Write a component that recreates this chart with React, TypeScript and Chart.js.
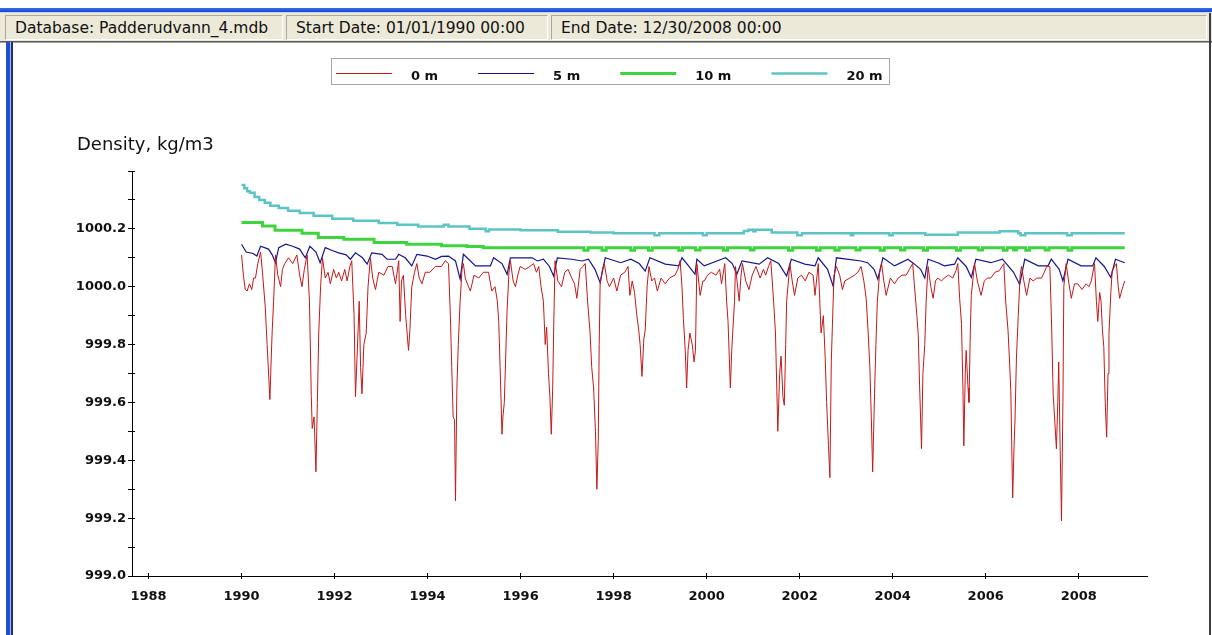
import React, { useEffect, useRef } from 'react';
import { Chart, registerables } from 'chart.js';

Chart.register(...registerables);

// ---------- data ----------
const seriesLabels = ['0 m', '5 m', '10 m', '20 m'];
const yAxisTitle = 'Density, kg/m3';
const statusTexts = ['Database: Padderudvann_4.mdb', 'Start Date: 01/01/1990 00:00', 'End Date: 12/30/2008 00:00'];

const depth0Years = [
  1990.00, 1990.04, 1990.08, 1990.12, 1990.17, 1990.22, 1990.26, 1990.30, 1990.35, 1990.41, 1990.45, 1990.51, 1990.55, 1990.61, 1990.64, 1990.66, 1990.69, 1990.73, 1990.78, 1990.84, 1990.88, 1990.93,
  1991.01, 1991.10, 1991.19, 1991.25, 1991.30, 1991.35, 1991.41, 1991.46, 1991.50, 1991.52, 1991.56, 1991.60, 1991.63, 1991.66, 1991.70, 1991.74, 1991.80, 1991.86, 1991.91, 1991.98,
  1992.04, 1992.09, 1992.15, 1992.22, 1992.27, 1992.33, 1992.37, 1992.42, 1992.45, 1992.49, 1992.53, 1992.56, 1992.59, 1992.63, 1992.68, 1992.72, 1992.77, 1992.82, 1992.88, 1992.95,
  1993.06, 1993.15, 1993.24, 1993.31, 1993.38, 1993.41, 1993.44, 1993.48, 1993.53, 1993.59, 1993.62, 1993.66, 1993.72, 1993.77, 1993.82, 1993.88, 1993.95,
  1994.05, 1994.17, 1994.30, 1994.38, 1994.45, 1994.49, 1994.52, 1994.55, 1994.58, 1994.60, 1994.63, 1994.66, 1994.70, 1994.74, 1994.77, 1994.81, 1994.88, 1994.92,
  1995.00, 1995.10, 1995.20, 1995.31, 1995.38, 1995.45, 1995.50, 1995.53, 1995.56, 1995.60, 1995.62, 1995.65, 1995.71, 1995.75, 1995.78, 1995.84, 1995.89, 1995.94, 1995.99,
  1996.10, 1996.20, 1996.28, 1996.34, 1996.39, 1996.44, 1996.49, 1996.53, 1996.56, 1996.60, 1996.63, 1996.66, 1996.69, 1996.71, 1996.74, 1996.80, 1996.88, 1996.95,
  1997.02, 1997.10, 1997.16, 1997.21, 1997.28, 1997.34, 1997.39, 1997.44, 1997.49, 1997.53, 1997.57, 1997.61, 1997.64, 1997.67, 1997.69, 1997.71, 1997.76, 1997.80, 1997.86, 1997.91,
  1998.00, 1998.07, 1998.15, 1998.24, 1998.31, 1998.35, 1998.40, 1998.45, 1998.50, 1998.54, 1998.57, 1998.61, 1998.65, 1998.68, 1998.72, 1998.76, 1998.82, 1998.88, 1998.94,
  1999.02, 1999.11, 1999.20, 1999.32, 1999.38, 1999.43, 1999.47, 1999.50, 1999.54, 1999.57, 1999.60, 1999.64, 1999.69, 1999.73, 1999.76, 1999.79, 1999.86, 1999.92, 1999.95,
  2000.02, 2000.10, 2000.20, 2000.28, 2000.32, 2000.39, 2000.43, 2000.46, 2000.51, 2000.54, 2000.56, 2000.60, 2000.62, 2000.66, 2000.70, 2000.74, 2000.77, 2000.84, 2000.91, 2000.98,
  2001.06, 2001.15, 2001.22, 2001.27, 2001.33, 2001.38, 2001.44, 2001.48, 2001.53, 2001.57, 2001.60, 2001.64, 2001.67, 2001.70, 2001.72, 2001.79, 2001.84, 2001.89, 2001.96,
  2002.04, 2002.12, 2002.20, 2002.29, 2002.33, 2002.40, 2002.43, 2002.46, 2002.51, 2002.55, 2002.58, 2002.62, 2002.65, 2002.68, 2002.72, 2002.74, 2002.79, 2002.86, 2002.92, 2002.97,
  2003.08, 2003.18, 2003.25, 2003.32, 2003.38, 2003.43, 2003.47, 2003.51, 2003.54, 2003.57, 2003.61, 2003.64, 2003.67, 2003.72, 2003.76, 2003.81, 2003.86, 2003.95,
  2004.04, 2004.12, 2004.20, 2004.29, 2004.36, 2004.43, 2004.48, 2004.52, 2004.55, 2004.58, 2004.62, 2004.65, 2004.69, 2004.72, 2004.76, 2004.82, 2004.87, 2004.92, 2004.97,
  2005.05, 2005.11, 2005.20, 2005.29, 2005.36, 2005.40, 2005.44, 2005.48, 2005.51, 2005.53, 2005.56, 2005.58, 2005.62, 2005.64, 2005.67, 2005.69, 2005.76, 2005.82, 2005.90, 2005.97,
  2006.04, 2006.11, 2006.20, 2006.29, 2006.35, 2006.39, 2006.43, 2006.48, 2006.51, 2006.54, 2006.56, 2006.58, 2006.61, 2006.63, 2006.66, 2006.70, 2006.74, 2006.77, 2006.82, 2006.88, 2006.95,
  2007.02, 2007.10, 2007.20, 2007.26, 2007.31, 2007.38, 2007.42, 2007.45, 2007.48, 2007.52, 2007.55, 2007.57, 2007.60, 2007.63, 2007.66, 2007.68, 2007.73, 2007.79, 2007.84, 2007.91, 2007.98,
  2008.07, 2008.16, 2008.22, 2008.27, 2008.34, 2008.38, 2008.41, 2008.45, 2008.48, 2008.51, 2008.54, 2008.57, 2008.60, 2008.63, 2008.65, 2008.69, 2008.72, 2008.77, 2008.81, 2008.85, 2008.88, 2008.93, 2008.99,
];
const depth0Density = [
  1000.11, 1000.04, 999.99, 999.985, 1000.01, 999.99, 1000.03, 1000.03, 1000.08, 1000.12, 1000.05, 999.93, 999.80, 999.61, 999.76, 999.85, 999.95, 1000.11, 1000.04, 1000.00, 1000.06, 1000.08,
  1000.10, 1000.08, 1000.11, 1000.04, 1000.00, 1000.06, 1000.11, 999.95, 999.62, 999.51, 999.55, 999.36, 999.60, 999.84, 1000.00, 1000.10, 1000.03, 1000.05, 1000.01, 1000.06,
  1000.03, 1000.05, 1000.02, 1000.06, 1000.02, 1000.07, 1000.09, 999.90, 999.62, 999.78, 999.95, 999.72, 999.63, 999.80, 999.84, 1000.00, 1000.10, 1000.03, 999.99, 1000.05,
  1000.04, 1000.07, 1000.07, 1000.01, 1000.09, 999.88, 1000.02, 1000.04, 999.90, 999.78, 999.85, 1000.00, 1000.05, 1000.08, 1000.03, 1000.01, 1000.05,
  1000.05, 1000.07, 1000.07, 1000.09, 1000.08, 999.90, 999.72, 999.55, 999.54, 999.26, 999.65, 999.80, 999.95, 1000.06, 1000.08, 1000.03, 1000.00, 999.985,
  1000.04, 1000.03, 1000.05, 1000.05, 999.985, 1000.00, 999.95, 999.88, 999.72, 999.49, 999.55, 999.60, 999.92, 1000.05, 1000.09, 1000.02, 1000.00, 1000.04, 1000.07,
  1000.06, 1000.07, 1000.08, 1000.05, 1000.07, 1000.00, 999.95, 999.80, 999.86, 999.70, 999.62, 999.49, 999.65, 999.84, 1000.09, 1000.02, 1000.00, 1000.05,
  1000.06, 1000.03, 1000.01, 999.96, 1000.06, 1000.07, 1000.08, 999.95, 999.85, 999.72, 999.65, 999.50, 999.30, 999.47, 999.80, 1000.01, 1000.06, 1000.08, 1000.02, 1000.00,
  1000.03, 999.985, 1000.04, 1000.05, 1000.07, 999.97, 1000.02, 999.98, 999.90, 999.85, 999.80, 999.69, 999.82, 999.85, 1000.00, 1000.07, 1000.02, 1000.03, 999.985,
  1000.03, 1000.01, 1000.03, 1000.04, 1000.06, 1000.09, 1000.00, 999.89, 999.78, 999.65, 999.78, 999.84, 999.80, 999.74, 999.78, 1000.08, 999.97, 1000.02, 1000.02,
  1000.04, 1000.05, 1000.04, 1000.06, 1000.01, 1000.08, 999.95, 999.88, 999.65, 999.78, 999.84, 999.95, 1000.07, 1000.01, 999.95, 1000.04, 1000.08, 1000.02, 999.99, 1000.04,
  1000.07, 1000.03, 1000.06, 1000.04, 1000.07, 1000.09, 999.95, 999.84, 999.50, 999.70, 999.76, 999.62, 999.59, 999.80, 999.95, 1000.08, 1000.02, 999.97, 1000.03,
  1000.04, 1000.02, 1000.05, 1000.04, 999.97, 1000.08, 999.96, 999.84, 999.90, 999.75, 999.60, 999.45, 999.34, 999.74, 999.95, 1000.04, 1000.07, 1000.04, 999.99, 1000.02,
  1000.03, 1000.04, 1000.05, 1000.07, 1000.02, 999.96, 999.85, 999.72, 999.55, 999.36, 999.63, 999.80, 999.95, 1000.05, 1000.08, 1000.02, 999.97, 1000.03,
  1000.01, 1000.03, 1000.04, 1000.04, 1000.06, 1000.08, 999.98, 999.90, 999.835, 999.65, 999.44, 999.70, 999.80, 999.95, 1000.07, 1000.00, 999.96, 1000.02, 1000.03,
  1000.02, 1000.03, 1000.04, 1000.03, 1000.055, 1000.08, 999.96, 999.87, 999.65, 999.45, 999.70, 999.78, 999.65, 999.60, 999.85, 999.97, 1000.08, 1000.02, 999.97, 1000.02,
  1000.03, 1000.03, 1000.05, 1000.055, 1000.07, 1000.08, 999.95, 999.85, 999.75, 999.64, 999.45, 999.27, 999.45, 999.54, 999.75, 999.90, 1000.04, 1000.07, 1000.02, 999.97, 1000.03,
  1000.02, 1000.03, 1000.03, 1000.05, 1000.07, 1000.07, 999.85, 999.63, 999.55, 999.44, 999.60, 999.74, 999.45, 999.19, 999.60, 1000.00, 1000.08, 1000.01, 999.96, 1000.01, 1000.01,
  999.99, 1000.01, 1000.00, 1000.02, 1000.08, 999.95, 999.88, 999.98, 999.95, 999.85, 999.79, 999.60, 999.48, 999.70, 999.835, 999.98, 1000.055, 1000.07, 1000.08, 1000.00, 999.96, 999.99, 1000.02,
];

const depth5Years = [
  1990.00, 1990.10, 1990.25, 1990.33, 1990.41, 1990.58, 1990.66, 1990.73, 1990.80, 1990.95,
  1991.10, 1991.25, 1991.37, 1991.47, 1991.60, 1991.69, 1991.80, 1991.95,
  1992.09, 1992.25, 1992.34, 1992.45, 1992.60, 1992.70, 1992.80,
  1993.02, 1993.13, 1993.31, 1993.38, 1993.52, 1993.66, 1993.77, 1993.99,
  1994.17, 1994.30, 1994.45, 1994.60, 1994.70, 1994.77, 1994.81,
  1995.03, 1995.35, 1995.42, 1995.60, 1995.71, 1995.78,
  1996.25, 1996.36, 1996.49, 1996.62, 1996.71, 1996.79,
  1997.10, 1997.32, 1997.46, 1997.60, 1997.71, 1997.82,
  1998.15, 1998.37, 1998.55, 1998.68, 1998.78,
  1999.11, 1999.40, 1999.47, 1999.62, 1999.75, 1999.79, 1999.95,
  2000.32, 2000.41, 2000.55, 2000.65, 2000.76,
  2001.13, 2001.31, 2001.55, 2001.72, 2001.82,
  2002.11, 2002.33, 2002.40, 2002.60, 2002.72, 2002.79,
  2003.32, 2003.46, 2003.60, 2003.68, 2003.79,
  2004.04, 2004.33, 2004.47, 2004.60, 2004.69, 2004.76, 2004.97,
  2005.11, 2005.33, 2005.40, 2005.58, 2005.69, 2005.79,
  2006.11, 2006.36, 2006.60, 2006.73, 2006.84,
  2007.13, 2007.34, 2007.41, 2007.58, 2007.66, 2007.77,
  2008.05, 2008.30, 2008.37, 2008.55, 2008.69, 2008.79, 2008.99,
];
const depth5Density = [
  1000.147, 1000.12, 1000.115, 1000.106, 1000.14, 1000.13, 1000.11, 1000.083, 1000.135, 1000.147,
  1000.14, 1000.13, 1000.10, 1000.14, 1000.12, 1000.083, 1000.135, 1000.125,
  1000.117, 1000.11, 1000.095, 1000.117, 1000.10, 1000.078, 1000.117,
  1000.112, 1000.095, 1000.095, 1000.112, 1000.10, 1000.072, 1000.112, 1000.106,
  1000.095, 1000.105, 1000.106, 1000.089, 1000.026, 1000.112, 1000.106,
  1000.072, 1000.072, 1000.10, 1000.08, 1000.043, 1000.10,
  1000.10, 1000.089, 1000.095, 1000.07, 1000.037, 1000.10,
  1000.095, 1000.089, 1000.095, 1000.06, 1000.014, 1000.10,
  1000.083, 1000.095, 1000.08, 1000.054, 1000.10,
  1000.078, 1000.072, 1000.10, 1000.07, 1000.043, 1000.095, 1000.072,
  1000.095, 1000.10, 1000.08, 1000.043, 1000.089,
  1000.078, 1000.10, 1000.08, 1000.037, 1000.095,
  1000.078, 1000.072, 1000.10, 1000.06, 1000.002, 1000.10,
  1000.089, 1000.083, 1000.06, 1000.026, 1000.10,
  1000.072, 1000.095, 1000.078, 1000.06, 1000.03, 1000.095, 1000.083,
  1000.072, 1000.078, 1000.10, 1000.07, 1000.032, 1000.095,
  1000.083, 1000.095, 1000.05, 1000.008, 1000.095,
  1000.072, 1000.072, 1000.095, 1000.06, 1000.02, 1000.095,
  1000.072, 1000.072, 1000.10, 1000.07, 1000.032, 1000.095, 1000.083,
];

const depth10Years = [
  1990.00, 1990.45, 1990.72, 1991.30, 1991.65, 1992.20, 1992.85, 1993.55, 1994.30, 1994.85, 1995.20,
  1997.36, 1997.45, 1997.75, 1997.84, 1998.37, 1998.45, 1998.75, 1998.83, 1999.40, 1999.48, 1999.76, 1999.86,
  2000.36, 2000.45, 2000.94, 2001.02, 2001.76, 2001.85, 2002.36, 2002.44, 2002.76, 2002.85, 2003.21, 2003.30,
  2003.73, 2003.82, 2004.17, 2004.26, 2004.66, 2004.75, 2005.37, 2005.46, 2005.84, 2005.93, 2006.38, 2006.46,
  2006.60, 2006.66, 2006.86, 2006.94, 2007.28, 2007.36, 2007.77, 2007.85, 2008.99,
];
const depth10Density = [
  1000.222, 1000.21, 1000.195, 1000.185, 1000.17, 1000.164, 1000.153, 1000.147, 1000.142, 1000.139, 1000.135,
  1000.126, 1000.135, 1000.126, 1000.135, 1000.126, 1000.135, 1000.126, 1000.135, 1000.126, 1000.135, 1000.127, 1000.135,
  1000.126, 1000.135, 1000.127, 1000.135, 1000.126, 1000.135, 1000.126, 1000.135, 1000.126, 1000.135, 1000.127, 1000.135,
  1000.126, 1000.135, 1000.127, 1000.135, 1000.126, 1000.135, 1000.126, 1000.135, 1000.127, 1000.135, 1000.126, 1000.135,
  1000.127, 1000.135, 1000.126, 1000.135, 1000.127, 1000.135, 1000.126, 1000.135, 1000.135,
];

const depth20Years = [
  1990.00, 1990.06, 1990.12, 1990.18, 1990.28, 1990.38, 1990.50, 1990.62, 1990.80, 1991.00, 1991.25, 1991.55, 1991.95,
  1992.40, 1992.95, 1993.35, 1993.80, 1994.35, 1994.45, 1994.90, 1995.25, 1995.32, 1996.00, 1996.80, 1997.50, 1998.00,
  1998.88, 1998.98, 1999.92, 2000.00, 2000.80, 2000.90, 2001.00, 2001.05, 2001.40, 2001.95, 2002.05, 2003.10, 2003.15,
  2003.93, 2004.00, 2004.70, 2005.40, 2006.30, 2006.70, 2006.75, 2006.85, 2007.75, 2007.85, 2008.99,
];
const depth20Density = [
  1000.352, 1000.34, 1000.33, 1000.325, 1000.31, 1000.30, 1000.29, 1000.28, 1000.272, 1000.263, 1000.255, 1000.245, 1000.235,
  1000.228, 1000.22, 1000.214, 1000.208, 1000.214, 1000.208, 1000.20, 1000.192, 1000.198, 1000.195, 1000.19, 1000.187, 1000.185,
  1000.178, 1000.185, 1000.178, 1000.185, 1000.193, 1000.197, 1000.192, 1000.197, 1000.187, 1000.178, 1000.185, 1000.178, 1000.185,
  1000.178, 1000.185, 1000.18, 1000.187, 1000.192, 1000.185, 1000.178, 1000.185, 1000.178, 1000.185, 1000.185,
];

const xMin = 1987.645;
const xMax = 2009.468;
const yMin = 999.0;
const yMax = 1000.4;

const toPoints = (xs: number[], ys: number[]) => xs.map((x, i) => ({ x, y: ys[i] }));

const FONT = '"DejaVu Sans", "Noto Sans", sans-serif';

const overlayPlugin = {
  id: 'overlay',
  afterDraw(chart: any) {
    const ctx = chart.ctx as CanvasRenderingContext2D;
    const { left, bottom } = chart.chartArea;
    const align = (p: number) => Math.round(p - 0.5) + 0.5;
    ctx.save();
    // inward tick stubs
    ctx.strokeStyle = '#000';
    ctx.lineWidth = 1;
    const ys = chart.scales.y;
    ys.ticks.forEach((t: any) => {
      const py = align(ys.getPixelForValue(t.value));
      ctx.beginPath();
      ctx.moveTo(left, py);
      ctx.lineTo(left + 3, py);
      ctx.stroke();
    });
    const xs = chart.scales.x;
    xs.ticks.forEach((t: any) => {
      const px = align(xs.getPixelForValue(t.value));
      ctx.beginPath();
      ctx.moveTo(px, bottom);
      ctx.lineTo(px, bottom - 3);
      ctx.stroke();
    });
    // y axis title
    ctx.fillStyle = '#111';
    ctx.font = '18px ' + FONT;
    ctx.textAlign = 'left';
    ctx.textBaseline = 'alphabetic';
    ctx.fillText(yAxisTitle, 77, 150);
    // legend box
    const datasets = chart.data.datasets;
    ctx.font = 'bold 13px ' + FONT;
    const widths = datasets.map((d: any) => ctx.measureText(d.label).width);
    const lineLen = 56, gapText = 19, gapItem = 40, padL = 5, padR = 6;
    let total = padL + padR + gapItem * (datasets.length - 1);
    widths.forEach((w: number) => { total += lineLen + gapText + w; });
    const bx = Math.round(chart.width / 2 + 4 - total / 2);
    const top = 58, bot = 84;
    ctx.strokeStyle = '#a8a8a8';
    ctx.lineWidth = 1;
    ctx.strokeRect(bx + 0.5, top + 0.5, Math.round(total), bot - top);
    let cx = bx + padL;
    datasets.forEach((d: any, i: number) => {
      const lw = d.borderWidth;
      const ly = 73 + (Math.round(lw) % 2 ? 0.5 : 0);
      ctx.strokeStyle = d.borderColor;
      ctx.lineWidth = lw;
      ctx.beginPath();
      ctx.moveTo(cx, ly);
      ctx.lineTo(cx + lineLen, ly);
      ctx.stroke();
      cx += lineLen + gapText;
      ctx.fillStyle = '#111';
      ctx.fillText(d.label, cx, 80);
      cx += widths[i] + gapItem;
    });
    ctx.restore();
  },
};

export default function App() {
  const ref = useRef<HTMLCanvasElement>(null);

  useEffect(() => {
    if (!ref.current) return;
    const chart = new Chart(ref.current, {
      type: 'line',
      data: {
        datasets: [
          { label: seriesLabels[0], data: toPoints(depth0Years, depth0Density), borderColor: '#c41818', borderWidth: 1, pointRadius: 0, tension: 0 },
          { label: seriesLabels[1], data: toPoints(depth5Years, depth5Density), borderColor: '#16168a', borderWidth: 1.2, pointRadius: 0, tension: 0 },
          { label: seriesLabels[2], data: toPoints(depth10Years, depth10Density), borderColor: '#3fd43f', borderWidth: 3, pointRadius: 0, stepped: true },
          { label: seriesLabels[3], data: toPoints(depth20Years, depth20Density), borderColor: '#5cc4c4', borderWidth: 2.5, pointRadius: 0, stepped: true },
        ],
      },
      options: {
        responsive: false,
        animation: false,
        devicePixelRatio: 1,
        layout: { padding: { left: 0, top: 171, right: 65, bottom: 0 } },
        plugins: { legend: { display: false }, tooltip: { enabled: false }, title: { display: false } },
        scales: {
          x: {
            type: 'linear',
            min: xMin,
            max: xMax,
            afterFit: (s: any) => { s.height = 59; },
            border: { display: true, color: '#000', width: 1 },
            grid: { display: true, drawOnChartArea: false, drawTicks: true, tickLength: 3, color: '#000', tickColor: '#000' },
            ticks: {
              stepSize: 2,
              includeBounds: false,
              autoSkip: false,
              maxRotation: 0,
              padding: 10,
              color: '#111',
              font: { family: FONT, size: 13, weight: 'bold' },
              callback: (v: any) => String(Math.round(Number(v))),
            },
          },
          y: {
            type: 'linear',
            min: yMin,
            max: yMax,
            afterFit: (s: any) => { s.width = 132; },
            border: { display: true, color: '#000', width: 1 },
            grid: { display: true, drawOnChartArea: false, drawTicks: true, tickLength: 4, color: '#000', tickColor: '#000' },
            ticks: {
              stepSize: 0.1,
              maxTicksLimit: 100,
              autoSkip: false,
              padding: 2,
              color: '#111',
              font: { family: FONT, size: 13, weight: 'bold' },
              callback: (v: any) => {
                const k = Math.round(Number(v) * 10);
                if (k % 2 !== 0 || k >= 10004) return '';
                return (k / 10).toFixed(1);
              },
            },
          },
        },
      } as any,
      plugins: [overlayPlugin],
    });
    return () => chart.destroy();
  }, []);

  const panel = (left: number, width: number, text: string) => (
    <div
      style={{
        position: 'absolute', left, top: 2, width, height: 25, boxSizing: 'border-box',
        borderTop: '1px solid #aca899', borderLeft: '1px solid #aca899',
        borderBottom: '1px solid #ffffff', borderRight: '1px solid #ffffff',
        display: 'flex', alignItems: 'center', paddingLeft: 9,
        fontFamily: FONT, fontSize: 15.5, lineHeight: '18px', color: '#111', whiteSpace: 'nowrap', overflow: 'hidden',
      }}
    >
      {text}
    </div>
  );

  return (
    <div style={{ position: 'fixed', left: 0, top: 0, width: 1212, height: 635, background: '#ffffff', overflow: 'hidden' }}>
      <canvas ref={ref} width={1212} height={635} style={{ position: 'absolute', left: 0, top: 0, width: 1212, height: 635 }} />
      <div style={{ position: 'absolute', left: 0, top: 8, width: 1212, height: 4, background: 'linear-gradient(#3a6fe6, #0c46d8)' }} />
      <div style={{ position: 'absolute', left: 0, top: 12, width: 1212, height: 1, background: '#c9d3ea' }} />
      <div style={{ position: 'absolute', left: 0, top: 13, width: 1212, height: 28, background: '#ece9d8' }}>
        {panel(5, 278, statusTexts[0])}
        {panel(286, 262, statusTexts[1])}
        {panel(551, 656, statusTexts[2])}
      </div>
      <div style={{ position: 'absolute', left: 0, top: 41, width: 1212, height: 1, background: '#5a5a5a' }} />
      <div style={{ position: 'absolute', left: 0, top: 42, width: 1212, height: 1, background: '#a0a0a0' }} />
      <div style={{ position: 'absolute', left: 6, top: 42, width: 4, height: 593, background: '#1f4fd6' }} />
      <div style={{ position: 'absolute', left: 10, top: 42, width: 1, height: 593, background: '#b0c0e8' }} />
      <div style={{ position: 'absolute', left: 11, top: 42, width: 2, height: 593, background: '#1a2f8a' }} />
      <div style={{ position: 'absolute', left: 1209, top: 13, width: 2, height: 622, background: '#3c3c50' }} />
    </div>
  );
}
